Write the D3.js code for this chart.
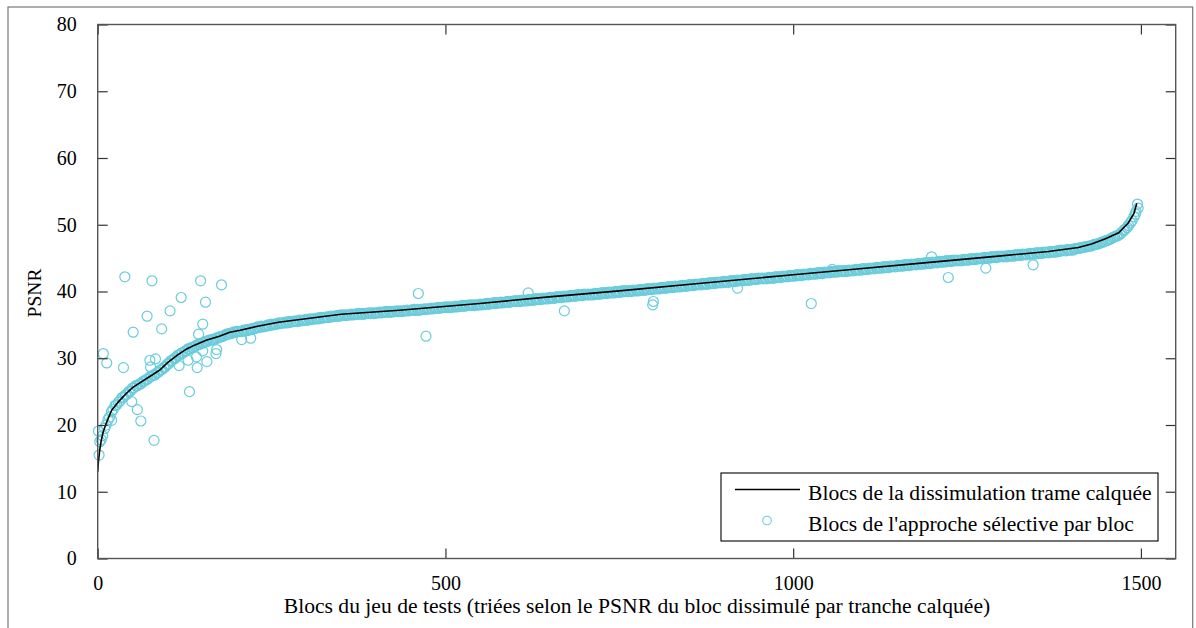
<!DOCTYPE html>
<html><head><meta charset="utf-8">
<script src="https://cdn.jsdelivr.net/npm/d3@7/dist/d3.min.js"></script>
<style>
body{margin:0;background:#fff;}
svg{display:block;font-family:"Liberation Serif","Times New Roman",serif;}
</style></head>
<body>
<svg id="chart" width="1196" height="628"></svg>
<script>
// ---------- DATA ----------
const xTicks = [0, 500, 1000, 1500];
const yTicks = [0, 10, 20, 30, 40, 50, 60, 70, 80];
const xLabel = "Blocs du jeu de tests (triées selon le PSNR du bloc dissimulé par tranche calquée)";
const yLabel = "PSNR";
const legendLabels = ["Blocs de la dissimulation trame calquée", "Blocs de l'approche sélective par bloc"];

// frame-copy concealment (line): block index / PSNR
const lineBlocks = [0,1,3,5,8,12,20,30,40,50,65,80,90,100,115,128,140,156,175,190,205,230,260,305,350,434,549,649,750,864,1000,1080,1200,1295,1367,1410,1429,1449,1468,1482,1490,1494];
const lineValues = [13.0,14.5,16.3,17.6,19.0,20.2,22.2,23.5,24.6,25.6,26.6,27.6,28.3,29.3,30.5,31.4,32.0,32.7,33.3,33.9,34.2,34.8,35.4,36.0,36.6,37.2,38.2,39.2,40.1,41.2,42.5,43.26,44.4,45.3,46.0,46.6,47.1,47.9,48.8,50.3,51.7,53.2];

// selective per-block approach: dense band, series A (blocks 5,10,15,...)
const bandAStart = 5, bandAStep = 5;
const bandAValues = [
17.8,19.5,20.8,22.0,22.9,23.4,24.1,24.5,25.0,25.5,25.9,26.1,26.5,26.8,27.2,27.5,27.8,28.2,28.6,29.1,
29.6,29.9,30.4,30.7,31.0,31.4,31.6,31.8,32.1,32.3,32.5,32.7,32.8,33.0,33.2,33.3,33.6,33.7,33.9,34.0,
34.0,34.2,34.3,34.4,34.5,34.7,34.8,34.8,35.0,35.1,35.1,35.3,35.3,35.4,35.5,35.5,35.6,35.7,35.7,35.8,
35.9,35.9,36.0,36.1,36.1,36.2,36.3,36.3,36.4,36.5,36.5,36.5,36.6,36.6,36.7,36.7,36.7,36.8,36.8,36.8,
36.9,36.9,37.0,37.0,37.0,37.1,37.1,37.1,37.2,37.2,37.3,37.3,37.3,37.4,37.4,37.5,37.5,37.6,37.6,37.7,
37.7,37.7,37.8,37.8,37.9,37.9,38.0,38.0,38.0,38.1,38.1,38.2,38.2,38.3,38.3,38.4,38.4,38.5,38.5,38.6,
38.6,38.7,38.7,38.8,38.8,38.9,38.9,39.0,39.0,39.1,39.1,39.2,39.2,39.3,39.3,39.4,39.4,39.5,39.5,39.6,
39.6,39.6,39.7,39.7,39.8,39.8,39.9,39.9,40.0,40.0,40.1,40.1,40.1,40.2,40.2,40.3,40.3,40.4,40.4,40.5,
40.5,40.6,40.6,40.7,40.7,40.8,40.8,40.9,40.9,41.0,41.0,41.1,41.1,41.2,41.2,41.3,41.3,41.4,41.4,41.5,
41.5,41.6,41.6,41.7,41.7,41.8,41.8,41.9,41.9,42.0,42.0,42.0,42.1,42.1,42.2,42.2,42.3,42.3,42.4,42.4,
42.5,42.5,42.6,42.6,42.7,42.7,42.8,42.8,42.9,42.9,43.0,43.0,43.1,43.1,43.1,43.2,43.2,43.3,43.3,43.4,
43.4,43.5,43.5,43.6,43.6,43.7,43.7,43.8,43.8,43.9,43.9,44.0,44.0,44.1,44.1,44.2,44.2,44.3,44.3,44.4,
44.4,44.5,44.5,44.6,44.6,44.7,44.7,44.7,44.8,44.8,44.9,44.9,45.0,45.0,45.1,45.1,45.2,45.2,45.3,45.3,
45.3,45.4,45.4,45.5,45.5,45.6,45.6,45.7,45.7,45.8,45.8,45.9,45.9,46.0,46.0,46.1,46.2,46.2,46.3,46.3,
46.4,46.5,46.6,46.7,46.8,46.9,47.1,47.2,47.4,47.6,47.8,48.1,48.3,48.6,49.1,49.6,50.3,51.2];

// selective per-block approach: dense band, series B (blocks 7,12,17,...)
const bandBStart = 7, bandBStep = 5;
const bandBValues = [
18.4,20.0,21.2,22.3,23.0,23.6,24.2,24.6,25.1,25.6,25.9,26.2,26.6,26.9,27.3,27.5,27.9,28.3,28.7,29.2,
29.7,30.1,30.5,30.8,31.1,31.4,31.6,31.9,32.1,32.3,32.5,32.7,32.8,33.0,33.2,33.4,33.6,33.7,33.9,34.0,
34.0,34.1,34.2,34.3,34.5,34.6,34.7,34.8,34.9,35.0,35.1,35.2,35.3,35.3,35.4,35.5,35.5,35.6,35.7,35.7,
35.8,35.9,35.9,36.0,36.1,36.1,36.2,36.3,36.3,36.4,36.4,36.5,36.5,36.6,36.6,36.6,36.7,36.7,36.7,36.8,
36.8,36.9,36.9,36.9,37.0,37.0,37.0,37.1,37.1,37.2,37.2,37.2,37.3,37.3,37.4,37.4,37.5,37.5,37.6,37.6,
37.6,37.7,37.7,37.8,37.8,37.9,37.9,37.9,38.0,38.0,38.1,38.1,38.2,38.2,38.3,38.3,38.4,38.4,38.5,38.5,
38.5,38.6,38.6,38.7,38.7,38.8,38.8,38.9,38.9,39.0,39.0,39.1,39.1,39.2,39.2,39.3,39.3,39.4,39.4,39.5,
39.5,39.5,39.6,39.6,39.7,39.7,39.8,39.8,39.9,39.9,40.0,40.0,40.0,40.1,40.1,40.2,40.2,40.3,40.3,40.4,
40.4,40.5,40.5,40.6,40.6,40.7,40.7,40.8,40.8,40.9,40.9,41.0,41.0,41.1,41.1,41.2,41.2,41.3,41.3,41.4,
41.4,41.5,41.5,41.6,41.6,41.7,41.7,41.8,41.8,41.9,41.9,41.9,42.0,42.0,42.1,42.1,42.2,42.2,42.3,42.3,
42.4,42.4,42.5,42.5,42.6,42.6,42.7,42.7,42.8,42.8,42.9,42.9,43.0,43.0,43.0,43.1,43.1,43.2,43.2,43.3,
43.3,43.4,43.4,43.5,43.5,43.6,43.6,43.7,43.7,43.8,43.8,43.9,43.9,44.0,44.0,44.1,44.1,44.2,44.2,44.3,
44.3,44.4,44.4,44.5,44.5,44.6,44.6,44.6,44.7,44.7,44.8,44.8,44.9,44.9,45.0,45.0,45.1,45.1,45.2,45.2,
45.2,45.3,45.3,45.4,45.4,45.5,45.5,45.6,45.6,45.7,45.7,45.8,45.8,45.9,45.9,46.0,46.1,46.1,46.2,46.2,
46.4,46.5,46.6,46.7,46.8,47.0,47.1,47.3,47.5,47.7,47.9,48.2,48.4,48.8,49.3,49.9,50.6,51.6];

// selective approach: scattered blocks away from the band
const outlierBlocks = [1,2,3,8,13,20,37,39,49,51,57,62,71,75,76,78,81,83,92,104,117,120,130,132,142,143,145,148,151,151,155,157,170,171,178,207,220,461,472,619,671,798,799,920,1026,1056,1199,1223,1277,1345,1493,1495,1496];
const outlierValues = [19.1,15.5,17.5,30.7,29.3,20.7,28.6,42.2,23.5,33.9,22.3,20.6,36.3,29.7,28.7,41.6,17.7,29.9,34.4,37.1,28.9,39.1,29.7,25.0,30.2,28.6,33.6,41.6,35.1,31.1,38.4,29.5,30.7,31.3,41.0,32.8,33.0,39.7,33.3,39.8,37.1,38.0,38.5,40.5,38.2,43.3,45.2,42.1,43.5,44.0,52.0,53.1,52.5];

// ---------- LAYOUT ----------
const svg = d3.select("#chart");
const x = d3.scaleLinear().domain([0, 1550]).range([97.7, 1175.7]);
const y = d3.scaleLinear().domain([0, 80]).range([558.5, 24.5]);
const cyan = "#6bccdb";
const axisCol = "#555";

// outer border
svg.append("rect").attr("x", 8).attr("y", 7).attr("width", 1184.7).attr("height", 640)
  .attr("fill", "none").attr("stroke", "#777").attr("stroke-width", 1.2);

const plot = svg.append("g");

// band + outliers (circles)
const bandData = bandAValues.map((v, i) => ({b: bandAStart + i * bandAStep, v}))
  .concat(bandBValues.map((v, i) => ({b: bandBStart + i * bandBStep, v})));
const outData = outlierBlocks.map((b, i) => ({b, v: outlierValues[i]}));
plot.selectAll("circle.band").data(bandData).enter().append("circle")
  .attr("class", "band").attr("cx", d => x(d.b)).attr("cy", d => y(d.v)).attr("r", 5.1)
  .attr("fill", "none").attr("stroke", cyan).attr("stroke-width", 1.25);
plot.selectAll("circle.out").data(outData).enter().append("circle")
  .attr("class", "out").attr("cx", d => x(d.b)).attr("cy", d => y(d.v)).attr("r", 5.0)
  .attr("fill", "none").attr("stroke", cyan).attr("stroke-width", 1.2);

// line
const lineData = lineBlocks.map((b, i) => ({b, v: lineValues[i]}));
plot.append("path").datum(lineData)
  .attr("d", d3.line().x(d => x(d.b)).y(d => y(d.v)))
  .attr("fill", "none").attr("stroke", "#000").attr("stroke-width", 1.6);

// axes (ticks pointing inward)
function styleAxis(g){
  g.select(".domain").remove();
  g.selectAll(".tick line").attr("stroke", "#333").attr("stroke-width", 1.2);
  g.selectAll(".tick text").attr("fill", "#000").style("font-size", "20px")
    .style("font-family", '"Liberation Serif","Times New Roman",serif');
}
svg.append("g").attr("transform", `translate(0,${y(0)})`)
  .call(d3.axisBottom(x).tickValues(xTicks).tickSize(-10).tickPadding(17).tickFormat(d3.format("d")))
  .call(styleAxis);
svg.append("g").attr("transform", `translate(0,${y(80)})`)
  .call(d3.axisTop(x).tickValues(xTicks).tickSize(-10).tickFormat(""))
  .call(styleAxis);
svg.append("g").attr("transform", `translate(${x(0)},0)`)
  .call(d3.axisLeft(y).tickValues(yTicks).tickSize(-10).tickPadding(21).tickFormat(d3.format("d")))
  .call(styleAxis);
svg.append("g").attr("transform", `translate(${x(1550)},0)`)
  .call(d3.axisRight(y).tickValues(yTicks).tickSize(-10).tickFormat(""))
  .call(styleAxis);

// plot frame
svg.append("rect").attr("x", x(0)).attr("y", y(80)).attr("width", x(1550) - x(0)).attr("height", y(0) - y(80))
  .attr("fill", "none").attr("stroke", axisCol).attr("stroke-width", 1.4);

// axis titles
svg.append("text").attr("x", 637).attr("y", 613).attr("text-anchor", "middle")
  .style("font-size", "21.6px").text(xLabel);
svg.append("text").attr("transform", "translate(41,293) rotate(-90)").attr("text-anchor", "middle")
  .style("font-size", "19.5px").text(yLabel);

// legend
const lg = svg.append("g");
lg.append("rect").attr("x", 721).attr("y", 473).attr("width", 437).attr("height", 68)
  .attr("fill", "#fff").attr("stroke", "#000").attr("stroke-width", 1.1);
lg.append("line").attr("x1", 735).attr("x2", 800).attr("y1", 489.5).attr("y2", 489.5)
  .attr("stroke", "#000").attr("stroke-width", 1.3);
lg.append("circle").attr("cx", 767).attr("cy", 520.5).attr("r", 4.3)
  .attr("fill", "none").attr("stroke", cyan).attr("stroke-width", 1.1);
lg.append("text").attr("x", 808).attr("y", 500).style("font-size", "21.6px").text(legendLabels[0]);
lg.append("text").attr("x", 808).attr("y", 531).style("font-size", "21.6px").text(legendLabels[1]);
</script>
</body></html>
